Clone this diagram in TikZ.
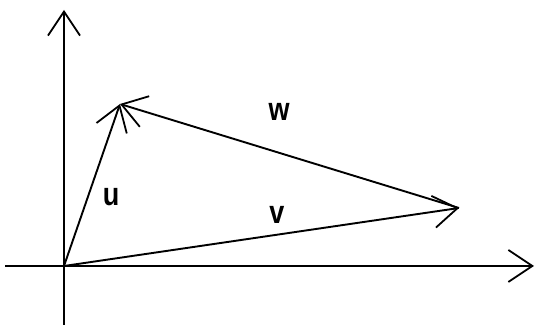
\documentclass[tikz,border=0pt]{standalone}
\usepackage{fontspec}
\setmainfont{Liberation Sans}
\usetikzlibrary{positioning,calc,arrows.meta}

\begin{document}
\begin{tikzpicture}[x=1pt, y=1pt, >={Straight Barb[length=24pt, width=32pt, line width=1.8pt]},
  axis/.style={line width=2pt, ->},
  vec/.style={line width=1.9pt, ->},
  lbl/.style={font=\fontsize{27}{27}\selectfont\bfseries, inner sep=0pt, yscale=1.2, transform shape}]
  \useasboundingbox (0,0) rectangle (536,328);

  % axes
  \coordinate (origin) at (64,62);
  \coordinate (xleft) at (5,62);
  \coordinate (xright) at (534,62);
  \coordinate (ybottom) at (64,3);
  \coordinate (ytop) at (64,318);
  \draw[axis] (xleft) -- (xright);
  \draw[axis] (ybottom) -- (ytop);

  % vectors
  \coordinate (utip) at (120,224);
  \coordinate (vtip) at (459,120);
  \draw[vec] (origin) -- (utip);
  \draw[vec] (origin) -- (vtip);
  \draw[vec] (vtip) -- (utip);

  % labels
  \node[lbl] (ulabel) at (111,131) {u};
  \node[lbl] (wlabel) at (279,216) {w};
  \node[lbl] (vlabel) at (277,113) {v};
\end{tikzpicture}
\end{document}
